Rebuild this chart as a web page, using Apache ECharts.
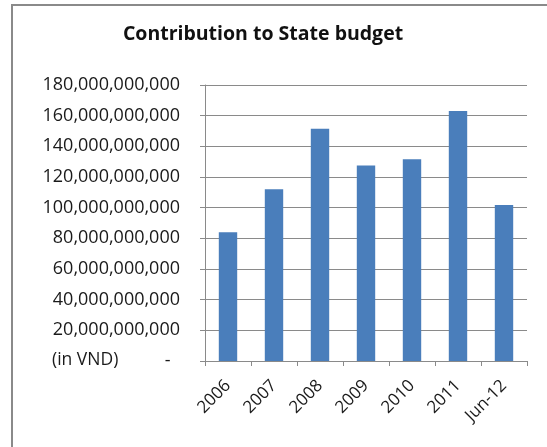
<!DOCTYPE html>
<html>
<head>
<meta charset="utf-8">
<script src="https://cdn.jsdelivr.net/npm/echarts@6/dist/echarts.min.js"></script>
<style>
  html, body { margin: 0; padding: 0; background: #fff; }
  #chart { width: 547px; height: 447px; }
</style>
</head>
<body>
<div id="chart"></div>
<script>
// Contribution to the State budget, in VND
const categories = ['2006', '2007', '2008', '2009', '2010', '2011', 'Jun-12'];
const contribution = [84e9, 112e9, 151.5e9, 127.5e9, 131.5e9, 163e9, 101.8e9];
const yTicks = { min: 0, max: 180e9, interval: 20e9 };
const unitNote = '(in VND)';

const FONT = '"Open Sans", "Liberation Sans", sans-serif';
const chart = echarts.init(document.getElementById('chart'), null, { renderer: 'canvas' });

function fmtThousands(v) {
  if (v === 0) return '-  ';
  return String(Math.round(v)).replace(/\B(?=(\d{3})+(?!\d))/g, ',');
}

chart.setOption({
  animation: false,
  backgroundColor: '#fff',
  title: {
    text: 'Contribution to State budget',
    left: 258,
    textAlign: 'center',
    top: 19,
    textStyle: { fontFamily: FONT, fontWeight: 'bold', fontSize: 19.5, color: '#111' }
  },
  graphic: [
    {
      type: 'rect',
      shape: { x: 12, y: 5, width: 600, height: 500 },
      style: { fill: 'none', stroke: '#8a8a8a', lineWidth: 2 },
      silent: true
    },
    {
      type: 'text',
      left: 52,
      top: 351,
      style: { text: unitNote, fontFamily: FONT, fontSize: 17.5, fill: '#1a1a1a' }
    }
  ],
  grid: { left: 205, right: 20, top: 85, bottom: 86, containLabel: false },
  xAxis: {
    type: 'category',
    data: categories,
    boundaryGap: true,
    axisLine: { lineStyle: { color: '#8a8a8a', width: 1 } },
    axisTick: { show: true, alignWithLabel: false, length: 5, lineStyle: { color: '#8a8a8a' } },
    axisLabel: {
      rotate: 45,
      margin: 22,
      interval: 0,
      fontFamily: FONT,
      fontSize: 17,
      color: '#1a1a1a'
    },
    splitLine: { show: false }
  },
  yAxis: {
    type: 'value',
    min: yTicks.min,
    max: yTicks.max,
    interval: yTicks.interval,
    axisLine: { show: true, lineStyle: { color: '#8a8a8a', width: 1 } },
    axisTick: { show: true, length: 5, lineStyle: { color: '#8a8a8a' } },
    axisLabel: {
      margin: 25,
      fontFamily: FONT,
      fontSize: 18,
      color: '#1a1a1a',
      formatter: fmtThousands
    },
    splitLine: { show: true, lineStyle: { color: '#8a8a8a', width: 1 } }
  },
  series: [{
    type: 'bar',
    data: contribution,
    barCategoryGap: '60%',
    itemStyle: { color: '#4a7ebb' }
  }]
});
</script>
</body>
</html>
